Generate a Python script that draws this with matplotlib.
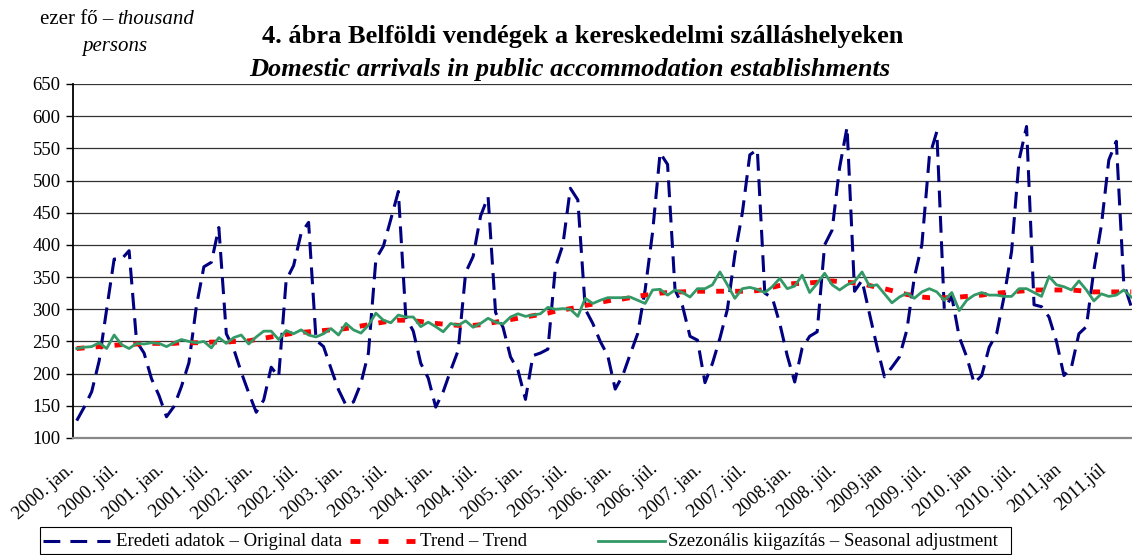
import matplotlib
matplotlib.use("Agg")
import matplotlib.pyplot as plt
import matplotlib.transforms as mtransforms
from matplotlib.lines import Line2D
from matplotlib.patches import Rectangle

plt.rcParams['font.family'] = ['Liberation Serif', 'DejaVu Serif']

# havi adatok, ezer fő: 2000. jan. - 2011. okt.
original = [
    127, 148, 172, 220, 300, 378, 378, 391, 250, 232, 192, 166,  # 2000
    133, 149, 180, 217, 305, 366, 373, 427, 262, 238, 202, 170,  # 2001
    140, 159, 210, 195, 345, 368, 418, 435, 252, 242, 208, 175,  # 2002
    151, 156, 185, 232, 378, 398, 440, 483, 288, 266, 216, 193,  # 2003
    148, 172, 205, 236, 357, 382, 445, 475, 295, 272, 226, 205,  # 2004
    160, 228, 232, 238, 365, 400, 488, 470, 300, 278, 250, 228,  # 2005
    176, 197, 230, 262, 330, 420, 543, 525, 330, 305, 258, 252,  # 2006
    186, 216, 255, 300, 385, 450, 540, 548, 325, 318, 278, 228,  # 2007
    187, 240, 258, 265, 400, 423, 520, 583, 328, 345, 293, 242,  # 2008
    195, 210, 226, 268, 350, 400, 537, 576, 300, 320, 257, 226,  # 2009
    185, 197, 241, 262, 320, 390, 532, 584, 307, 304, 288, 250,  # 2010
    197, 210, 262, 273, 361, 430, 532, 561, 340, 304,            # 2011
]

trend = [
    239, 240, 241, 242, 243, 244, 245, 245, 246, 246, 247, 247,
    247, 247, 248, 248, 248, 248, 249, 249, 249, 250, 250, 251,
    253, 255, 257, 259, 261, 263, 264, 265, 266, 267, 268, 269,
    270, 272, 274, 276, 278, 280, 282, 283, 283, 282, 281, 279,
    278, 277, 276, 275, 275, 275, 276, 278, 280, 282, 284, 286,
    288, 290, 292, 294, 297, 299, 301, 303, 306, 308, 311, 313,
    315, 316, 318, 320, 322, 323, 325, 326, 327, 327, 328, 328,
    328, 328, 328, 328, 328, 328, 328, 329, 331, 334, 337, 339,
    340, 340, 341, 342, 343, 344, 343, 342, 341, 339, 337, 334,
    332, 329, 326, 323, 321, 319, 318, 318, 318, 318, 319, 320,
    321, 322, 324, 325, 326, 327, 328, 329, 330, 330, 330, 330,
    330, 330, 329, 328, 327, 327, 327, 327, 327, 327,
]

seasonal = [
    239, 241, 242, 248, 239, 260, 245, 239, 247, 246, 248, 247,
    242, 248, 253, 250, 248, 250, 240, 256, 247, 256, 260, 246,
    257, 266, 266, 253, 267, 262, 268, 260, 257, 262, 270, 260,
    278, 268, 263, 275, 294, 283, 279, 291, 288, 288, 273, 280,
    273, 265, 278, 275, 282, 272, 278, 286, 280, 277, 288, 293,
    289, 291, 293, 303, 300, 301, 300, 289, 317, 309, 314, 318,
    318, 318, 319, 314, 309, 330, 331, 322, 330, 326, 319, 332,
    332, 338, 358, 338, 317, 332, 334, 331, 326, 335, 348, 332,
    336, 353, 326, 340, 356, 338, 330, 338, 343, 358, 336, 338,
    324, 310, 319, 325, 317, 327, 332, 327, 314, 326, 298, 314,
    322, 326, 322, 322, 320, 320, 332, 332, 326, 320, 351, 338,
    335, 330, 344, 330, 313, 324, 320, 322, 330, 319,
]

tick_labels = [
    "2000. jan.", "2000. júl.", "2001. jan.", "2001. júl.", "2002. jan.", "2002. júl.",
    "2003. jan.", "2003. júl.", "2004. jan.", "2004. júl.", "2005. jan.", "2005. júl.",
    "2006. jan.", "2006. júl.", "2007. jan.", "2007. júl.", "2008.jan.", "2008. júl.",
    "2009.jan", "2009. júl.", "2010. jan", "2010. júl.", "2011.jan", "2011.júl",
]

names = ["Eredeti adatok – Original data", "Trend – Trend",
         "Szezonális kiigazítás – Seasonal adjustment"]

W, H = 1132, 555
fig = plt.figure(figsize=(W / 100, H / 100), dpi=100)
ax = fig.add_axes([73 / W, 1 - 438 / H, 1062 / W, 354 / H])

blue = dict(color='#000080', lw=2.2)
red = dict(color='#ff0000', lw=3.5, solid_capstyle='butt', dash_capstyle='butt')
green = dict(color='#339966', lw=2.0)

x = list(range(len(original)))
ax.plot(x, original, ls=(0, (5.5, 2.8)), zorder=3, **blue)
ax.plot(x, trend, ls=(0, (1.6, 2.3)), zorder=4, **red)
ax.plot(x, seasonal, zorder=5, **green)

ax.set_xlim(-0.5, len(original) - 0.5)
ax.set_ylim(100, 650)
ax.set_yticks(range(100, 651, 50))
ax.tick_params(axis='y', labelsize=13.5, length=5, width=1, direction='out', pad=4)
ax.grid(axis='y', color='#333333', lw=0.9)
ax.set_axisbelow(True)

ax.set_xticks(range(0, len(original), 6))
ax.set_xticklabels(tick_labels, rotation=41, ha='right', va='center',
                   rotation_mode='anchor', fontsize=13.5)
ax.tick_params(axis='x', length=0, pad=21)
shift = mtransforms.ScaledTranslation(-5 / 100, 0, fig.dpi_scale_trans)
for lab in ax.get_xticklabels():
    lab.set_transform(lab.get_transform() + shift)

for side in ['top', 'right']:
    ax.spines[side].set_visible(False)
ax.spines['left'].set_color('black')
ax.spines['left'].set_linewidth(1.3)
ax.spines['bottom'].set_color('#888888')
ax.spines['bottom'].set_linewidth(1.6)

# címek
fig.text(583 / W, 1 - 36 / H, "4. ábra Belföldi vendégek a kereskedelmi szálláshelyeken",
         ha='center', va='center', fontsize=19, fontweight='bold')
fig.text(570 / W, 1 - 69 / H, "Domestic arrivals in public accommodation establishments",
         ha='center', va='center', fontsize=19, fontweight='bold', style='italic')

fig.text(113 / W, 1 - 20 / H, "ezer fő –", ha='right', va='center', fontsize=15)
fig.text(117 / W, 1 - 20 / H, "thousand", ha='left', va='center', fontsize=15, style='italic')
fig.text(115 / W, 1 - 47 / H, "persons", ha='center', va='center', fontsize=15, style='italic')

# jelmagyarázat kézzel, hogy az oszlopok helye az eredetit kövesse
def fx(px):
    return px / W

def fy(py):
    return 1 - py / H

fig.add_artist(Rectangle((fx(40), fy(554)), fx(1011) - fx(40), fy(527) - fy(554),
                         transform=fig.transFigure, facecolor='white',
                         edgecolor='black', lw=0.8))
ly = fy(541)
entries = [
    (43, 110, 116, dict(ls=(0, (5.5, 3.3)), **blue)),
    (350, 415, 420, dict(ls=(0, (2.06, 3.7)), **red)),
    (598, 665, 668, dict(ls='-', **green)),
]
for (x0, x1, tx, style), name in zip(entries, names):
    fig.add_artist(Line2D([fx(x0), fx(x1)], [ly, ly], transform=fig.transFigure, **style))
    fig.text(fx(tx), ly, name, ha='left', va='center', fontsize=13.5)

fig.savefig('out.png', dpi=100)
